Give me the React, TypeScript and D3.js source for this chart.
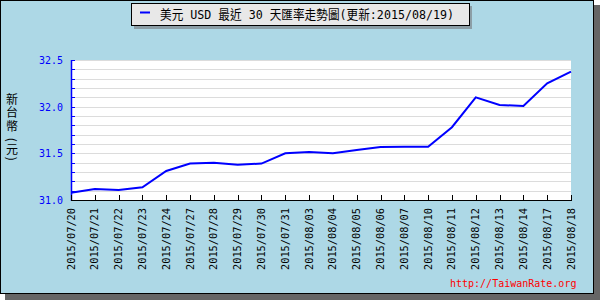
import React from "react";
import * as d3 from "d3";

const dates = [
  "2015/07/20", "2015/07/21", "2015/07/22", "2015/07/23", "2015/07/24",
  "2015/07/27", "2015/07/28", "2015/07/29", "2015/07/30", "2015/07/31",
  "2015/08/03", "2015/08/04", "2015/08/05", "2015/08/06", "2015/08/07",
  "2015/08/10", "2015/08/11", "2015/08/12", "2015/08/13", "2015/08/14",
  "2015/08/17", "2015/08/18",
];
const rates = [
  31.078, 31.118, 31.107, 31.136, 31.311, 31.39, 31.40, 31.378, 31.39, 31.50,
  31.514, 31.50, 31.536, 31.568, 31.571, 31.571, 31.78, 32.10, 32.018, 32.007,
  32.25, 32.375,
];
const yTickLabels = [31.0, 31.5, 32.0, 32.5];
const gridValues = d3.range(31.0, 32.51, 0.1);
const legendText = "美元 USD 最近 30 天匯率走勢圖(更新:2015/08/19)";
const yTitle = "新台幣 (元)";
const watermark = "http://TaiwanRate.org";

const FONT = "'DejaVu Sans Mono', 'Noto Sans CJK TC', monospace";
const CJK = "'Noto Sans CJK TC', 'DejaVu Sans', sans-serif";

export default function App() {
  const W = 600, H = 300;
  const left = 71, right = 571, top = 60, bottom = 200;
  const x = d3.scalePoint<string>().domain(dates).range([left, right]).padding(0);
  const y = d3.scaleLinear().domain([31.0, 32.5]).range([bottom, top]);
  const line = d3
    .line<number>()
    .x((_, i) => x(dates[i]) as number)
    .y((d) => y(d));

  return (
    <svg
      width={W}
      height={H}
      style={{ position: "absolute", left: 0, top: 0, display: "block" }}
      fontFamily={FONT}
    >
      {/* outer shadow and frame */}
      <rect x={5} y={5} width={595} height={295} fill="#666666" />
      <rect x={0.5} y={0.5} width={593} height={293} fill="#add8e6" stroke="#000" />

      {/* legend box */}
      <rect x={134} y={6} width={338} height={23} fill="#8c9ea6" />
      <rect x={131.5} y={3.5} width={338} height={22} fill="#e8e8e8" stroke="#000" />
      <line x1={140} x2={150} y1={12.5} y2={12.5} stroke="#0000ff" strokeWidth={2} />
      <text x={160} y={19} fontSize={13} fill="#000" textLength={294} lengthAdjust="spacingAndGlyphs">
        {legendText}
      </text>

      {/* plot area */}
      <rect x={left} y={top} width={right - left} height={bottom - top} fill="#fff" />
      {gridValues.map((v, i) => (
        <line
          key={"g" + i}
          x1={left}
          x2={right}
          y1={Math.round(y(v)) + 0.5}
          y2={Math.round(y(v)) + 0.5}
          stroke="#dcdcdc"
          strokeWidth={1}
        />
      ))}

      {/* y axis */}
      <line x1={left + 0.5} x2={left + 0.5} y1={top} y2={bottom + 1} stroke="#0000ff" strokeWidth={1.5} />
      {gridValues.map((v, i) => (
        <line
          key={"yt" + i}
          x1={left}
          x2={left + 4}
          y1={Math.round(y(v)) + 0.5}
          y2={Math.round(y(v)) + 0.5}
          stroke="#0000ff"
        />
      ))}
      {yTickLabels.map((v) => (
        <text
          key={"yl" + v}
          x={63}
          y={y(v)}
          dy="0.36em"
          textAnchor="end"
          fontSize={11}
          fill="#0000ff"
          textLength={24}
          lengthAdjust="spacingAndGlyphs"
        >
          {d3.format(".1f")(v)}
        </text>
      ))}
      <text
        x={12}
        y={93}
        fontSize={12}
        fontFamily={CJK}
        fill="#000"
        letterSpacing={1.5}
        style={{ writingMode: "vertical-rl", textOrientation: "mixed" }}
      >
        {yTitle}
      </text>

      {/* x axis */}
      <line x1={left} x2={right + 1} y1={bottom + 0.5} y2={bottom + 0.5} stroke="#000" />
      {dates.map((d) => (
        <line
          key={"xt" + d}
          x1={Math.round(x(d) as number) + 0.5}
          x2={Math.round(x(d) as number) + 0.5}
          y1={bottom - 5}
          y2={bottom}
          stroke="#000"
        />
      ))}
      {dates.map((d) => (
        <text
          key={"xl" + d}
          transform={`translate(${x(d)},208) rotate(-90)`}
          textAnchor="end"
          dominantBaseline="central"
          fontSize={11}
          fill="#000"
          textLength={62}
          lengthAdjust="spacingAndGlyphs"
        >
          {d}
        </text>
      ))}

      {/* data line */}
      <path d={line(rates) || ""} fill="none" stroke="#0000ff" strokeWidth={2} />

      {/* watermark */}
      <text x={450} y={287} fontSize={10} fill="#ff0000">
        {watermark}
      </text>
    </svg>
  );
}
